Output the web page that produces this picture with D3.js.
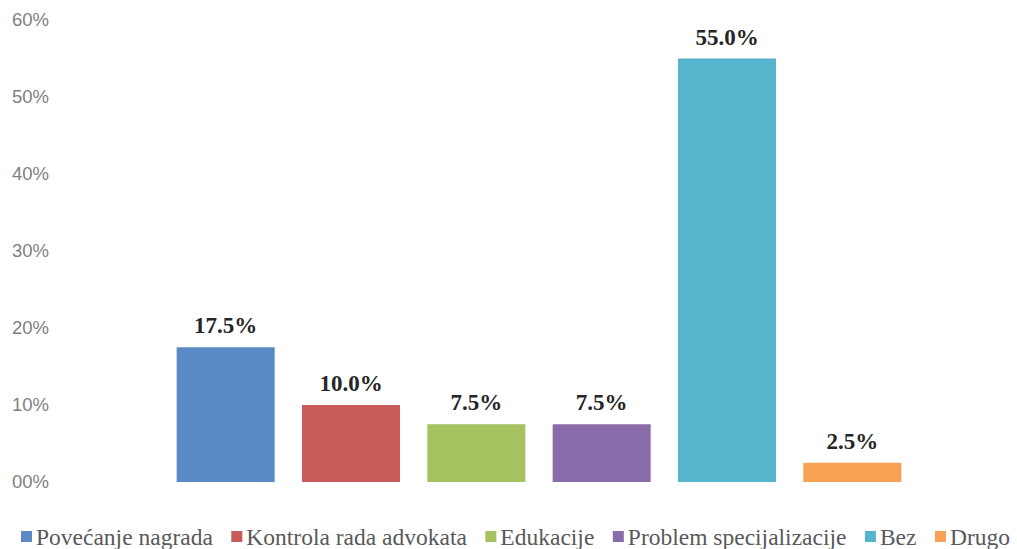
<!DOCTYPE html>
<html>
<head>
<meta charset="utf-8">
<script src="https://cdn.jsdelivr.net/npm/d3@7"></script>
<style>
  html, body { margin: 0; padding: 0; background: #fff; }
  .serif { font-family: "Liberation Serif", "Times New Roman", Times, serif; }
  .sans { font-family: "Liberation Sans", Arial, sans-serif; }
</style>
</head>
<body>
<svg id="chart" width="1017" height="549"></svg>
<script>
// categories / values / ticks
const categories = ["Povećanje nagrada", "Kontrola rada advokata", "Edukacije", "Problem specijalizacije", "Bez", "Drugo"];
const values = [17.5, 10.0, 7.5, 7.5, 55.0, 2.5];
const colors = ["#5a8ac6", "#c65b58", "#a5c160", "#8a6cab", "#56b4cd", "#f7a154"];
const tickValues = [0, 10, 20, 30, 40, 50, 60];
const tickLabels = ["00%", "10%", "20%", "30%", "40%", "50%", "60%"];

const svg = d3.select("#chart");
const W = +svg.attr("width"), H = +svg.attr("height");

svg.append("rect").attr("width", W).attr("height", H).attr("fill", "#fff");

// scales
const x = d3.scaleBand()
  .domain(categories)
  .range([163, 915])
  .paddingInner(0.218)
  .paddingOuter(0.109);

const y = d3.scaleLinear().domain([0, 60]).range([482, 20]);

// y axis: labels only, no line or ticks
const yAxis = svg.append("g")
  .attr("transform", "translate(12,0)")
  .call(d3.axisLeft(y).tickValues(tickValues).tickSize(0).tickPadding(0)
    .tickFormat((d, i) => tickLabels[i]));
yAxis.select(".domain").remove();
yAxis.attr("font-family", null).attr("font-size", null);
yAxis.selectAll("text")
  .attr("class", "sans")
  .attr("text-anchor", "start")
  .attr("font-size", 18.5)
  .attr("fill", "#7f7f7f");

// bars
svg.append("g").selectAll("rect")
  .data(categories)
  .join("rect")
  .attr("x", d => x(d))
  .attr("y", (d, i) => y(values[i]))
  .attr("width", x.bandwidth())
  .attr("height", (d, i) => y(0) - y(values[i]))
  .attr("fill", (d, i) => colors[i]);

// data labels
svg.append("g").selectAll("text")
  .data(categories)
  .join("text")
  .attr("class", "serif")
  .attr("x", d => x(d) + x.bandwidth() / 2)
  .attr("y", (d, i) => y(values[i]) - 14)
  .attr("text-anchor", "middle")
  .attr("font-weight", "bold")
  .attr("font-size", 23)
  .attr("fill", "#262626")
  .text((d, i) => values[i].toFixed(1) + "%");

// legend
const legend = svg.append("g");
let lx = 21;
categories.forEach((c, i) => {
  legend.append("rect")
    .attr("x", lx).attr("y", 531)
    .attr("width", 11).attr("height", 11)
    .attr("fill", colors[i]);
  const t = legend.append("text")
    .attr("class", "serif")
    .attr("x", lx + 15).attr("y", 545)
    .attr("font-size", 23.5)
    .attr("fill", "#595959")
    .text(c);
  lx += 15 + t.node().getComputedTextLength() + 18.5;
});
</script>
</body>
</html>
